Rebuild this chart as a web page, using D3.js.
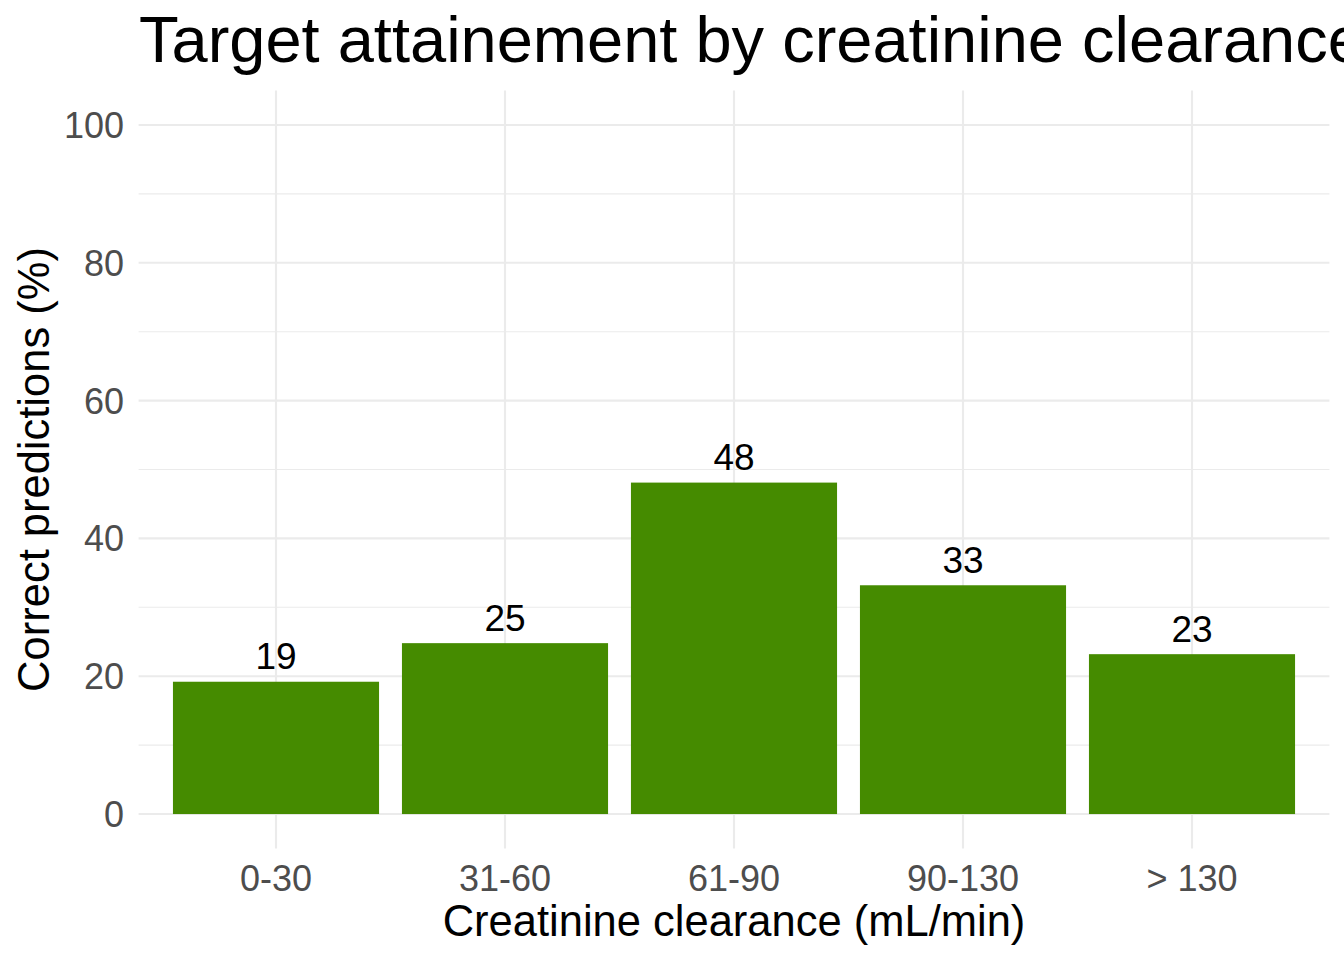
<!DOCTYPE html>
<html><head><meta charset="utf-8">
<script src="https://cdn.jsdelivr.net/npm/d3@7"></script>
<style>body{margin:0;background:#fff}svg{display:block;font-family:"Liberation Sans",Arial,sans-serif}</style>
</head><body>
<script>
const categories = ["0-30", "31-60", "61-90", "90-130", "> 130"];
const values = [19.2, 24.8, 48.1, 33.2, 23.2];
const yTicks = [0, 20, 40, 60, 80, 100];
const yMinor = [10, 30, 50, 70, 90];

const W = 1344, H = 960;
const svg = d3.select("body").append("svg").attr("width", W).attr("height", H);
const L = 138.6, R = 1329.4, T = 90.5, B = 848.5;

// discrete scale with ggplot-style expansion (0.6 units each side)
const step = (R - L) / 5.2;
const x = d3.scalePoint().domain(categories)
  .range([L + 0.6 * step, R - 0.6 * step]);
const bw = 0.9 * step;
const y = d3.scaleLinear().domain([-5, 105]).range([B, T]);

const g = svg.append("g");
g.selectAll(".ymin").data(yMinor).join("line")
  .attr("x1", L).attr("x2", R).attr("y1", d => y(d)).attr("y2", d => y(d))
  .attr("stroke", "#EBEBEB").attr("stroke-width", 1.1);
g.selectAll(".ymaj").data(yTicks).join("line")
  .attr("x1", L).attr("x2", R).attr("y1", d => y(d)).attr("y2", d => y(d))
  .attr("stroke", "#EBEBEB").attr("stroke-width", 2.1);
g.selectAll(".xmaj").data(categories).join("line")
  .attr("x1", d => x(d)).attr("x2", d => x(d)).attr("y1", T).attr("y2", B)
  .attr("stroke", "#EBEBEB").attr("stroke-width", 2.1);

g.selectAll(".bar").data(values).join("rect")
  .attr("x", (d, i) => x(categories[i]) - bw / 2)
  .attr("width", bw)
  .attr("y", d => y(d)).attr("height", d => y(0) - y(d))
  .attr("fill", "#458B00");

g.selectAll(".lab").data(values).join("text")
  .attr("x", (d, i) => x(categories[i]))
  .attr("y", d => y(d) - 12.5)
  .attr("text-anchor", "middle").attr("font-size", 37).attr("fill", "#000")
  .text(d => Math.round(d));

g.selectAll(".yt").data(yTicks).join("text")
  .attr("x", 124).attr("y", d => y(d)).attr("dy", "0.36em")
  .attr("text-anchor", "end").attr("font-size", 36).attr("fill", "#4D4D4D")
  .text(d => d);

g.selectAll(".xt").data(categories).join("text")
  .attr("x", d => x(d)).attr("y", 891)
  .attr("text-anchor", "middle").attr("font-size", 36).attr("fill", "#4D4D4D")
  .text(d => d);

svg.append("text").attr("x", (L + R) / 2).attr("y", 936)
  .attr("text-anchor", "middle").attr("font-size", 43.5).attr("fill", "#000")
  .text("Creatinine clearance (mL/min)");
svg.append("text").attr("transform", `translate(49,${(T + B) / 2}) rotate(-90)`)
  .attr("text-anchor", "middle").attr("font-size", 43.5).attr("fill", "#000")
  .text("Correct predictions (%)");

svg.append("text").attr("x", 139).attr("y", 62)
  .attr("font-size", 65).attr("fill", "#000")
  .text("Target attainement by creatinine clearance");
</script>
</body></html>
